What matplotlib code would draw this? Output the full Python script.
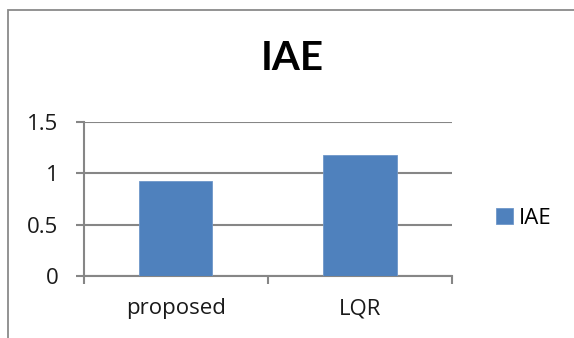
import matplotlib.pyplot as plt
from matplotlib.patches import Rectangle

# chart data
categories = ["proposed", "LQR"]
iae_values = [0.93, 1.18]
y_ticks = [0, 0.5, 1, 1.5]
y_tick_labels = ["0", "0.5", "1", "1.5"]

plt.rcParams['font.family'] = ['Open Sans', 'DejaVu Sans']
grey = "#868686"
blue = "#4F81BD"

fig = plt.figure(figsize=(5.74, 3.38), dpi=100)
ax = fig.add_axes([83.5 / 574, 62 / 338, 368.5 / 574, 154 / 338])

# outer chart border
fig.patches.append(Rectangle((8 / 574, -0.05), 1.2, (338 - 9.5) / 338 + 0.05,
                             transform=fig.transFigure, fill=False,
                             edgecolor="#8a8a8a", linewidth=1.3))

x = list(range(len(categories)))
ax.bar(x, iae_values, width=0.4, color=blue, edgecolor="#6f97c9",
       linewidth=0.6, label="IAE", zorder=3)

ax.set_xlim(-0.5, len(categories) - 0.5)
ax.set_ylim(0, 1.5)
ax.set_yticks(y_ticks)
ax.set_yticklabels(y_tick_labels)
ax.yaxis.grid(True, color=grey, linewidth=1.5, zorder=0)
ax.set_axisbelow(True)

ax.set_xticks(x)
ax.set_xticklabels(categories)
ax.set_xticks([-0.5, 0.5, 1.5], minor=True)
ax.tick_params(axis="x", which="major", length=0, pad=16, labelsize=16,
               labelcolor="#1a1a1a")
ax.tick_params(axis="x", which="minor", length=6, width=1.5, color=grey,
               direction="out")
ax.tick_params(axis="y", length=6, width=1.5, color=grey, pad=12,
               labelsize=16, labelcolor="#1a1a1a")

for side in ["top", "right"]:
    ax.spines[side].set_visible(False)
for side in ["left", "bottom"]:
    ax.spines[side].set_color(grey)
    ax.spines[side].set_linewidth(1.5)

fig.text(292 / 574, 1 - 59 / 338, "IAE", ha="center", va="center",
         fontsize=29, fontweight="bold", color="black", family="Lato")

fig.legend(loc="center left", bbox_to_anchor=(487 / 574, 1 - 218.5 / 338),
           frameon=False, fontsize=16, handlelength=0.75, handleheight=0.75,
           handletextpad=0.3, borderaxespad=0)

fig.savefig("out.png", dpi=100)
